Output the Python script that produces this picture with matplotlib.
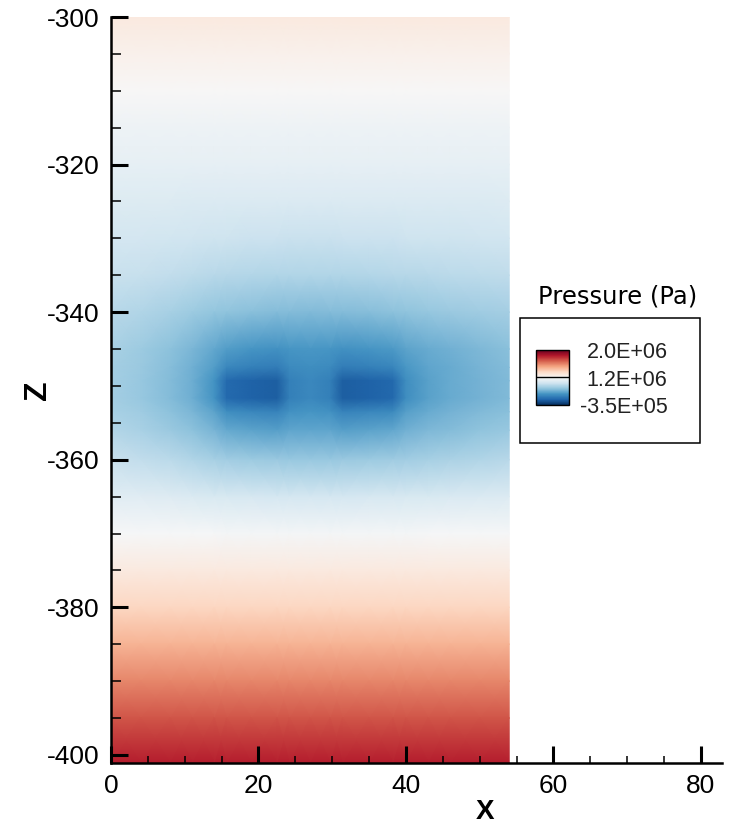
import numpy as np
import matplotlib
matplotlib.use("Agg")
import matplotlib.pyplot as plt
from matplotlib.colors import TwoSlopeNorm
from matplotlib.patches import Rectangle
from matplotlib.ticker import MultipleLocator

plt.rcParams['axes.unicode_minus'] = False

# grid nodes (x in m, z in m)
x_nodes = [0, 4, 8, 11, 14, 15.7, 19, 22.5, 24.2, 27, 29.7, 31.4, 35, 38.2, 40, 43, 46, 50, 54]
z_nodes = [-300, -305, -310, -315, -320, -325, -330, -335, -340, -345, -347.5, -349.3,
           -351.7, -353.5, -356, -360, -365, -370, -375, -380, -385, -390, -395, -401.1]

# background pressure profile with depth (Pa)
p_base = [1.28e6, 1.24e6, 1.20e6, 1.12e6, 1.06e6, 1.00e6, 0.95e6, 0.92e6, 0.89e6, 0.89e6,
          0.89e6, 0.89e6, 0.89e6, 0.90e6, 0.92e6, 0.98e6, 1.08e6, 1.20e6, 1.28e6, 1.37e6,
          1.48e6, 1.59e6, 1.70e6, 1.83e6]
# broad drawdown around the wells (Pa) and its lateral weight
dd_broad = [0, 0, 0, 0, 0, 0.03e6, 0.09e6, 0.19e6, 0.37e6, 0.59e6, 0.64e6, 0.65e6,
            0.65e6, 0.60e6, 0.53e6, 0.37e6, 0.155e6, 0.03e6, 0, 0, 0, 0, 0, 0]
w_broad = [0.33, 0.42, 0.55, 0.67, 0.80, 0.85, 0.92, 0.97, 0.99, 1.0, 0.99, 0.97, 0.93,
           0.88, 0.85, 0.79, 0.73, 0.65, 0.57]
# extra drawdown at the two well screens (Pa) and its lateral weight
dd_well = [0, 0, 0, 0, 0, 0, 0, 0, 0, 0.06e6, 0.155e6, 0.34e6, 0.34e6, 0.155e6, 0.06e6,
           0, 0, 0, 0, 0, 0, 0, 0, 0]
w_well = [0, 0, 0, 0.05, 0.3, 1, 1, 1, 0.3, 0.1, 0.3, 1, 1, 1, 0.3, 0.05, 0, 0, 0]

cb_ticks = [-3.5e5, 1.2e6, 2.0e6]
cb_labels = ['-3.5E+05', '1.2E+06', '2.0E+06']

P = (np.array(p_base)[:, None]
     - np.array(dd_broad)[:, None] * np.array(w_broad)[None, :]
     - np.array(dd_well)[:, None] * np.array(w_well)[None, :])
XX, ZZ = np.meshgrid(x_nodes, z_nodes)

norm = TwoSlopeNorm(vmin=cb_ticks[0], vcenter=cb_ticks[1], vmax=cb_ticks[2])
cmap = plt.get_cmap('RdBu_r')

fig = plt.figure(figsize=(7.41, 8.30), dpi=100)
ax = fig.add_axes([111 / 741, 67 / 830, 611 / 741, 746 / 830])
mesh = ax.pcolormesh(XX, ZZ, P, shading='gouraud', cmap=cmap, norm=norm)

ax.set_xlim(0, 82.85)
ax.set_ylim(-401.1, -300)
for s in ['top', 'right']:
    ax.spines[s].set_visible(False)
for s in ['left', 'bottom']:
    ax.spines[s].set_linewidth(1.8)

ax.xaxis.set_major_locator(MultipleLocator(20))
ax.xaxis.set_minor_locator(MultipleLocator(5))
ax.yaxis.set_major_locator(MultipleLocator(20))
ax.yaxis.set_minor_locator(MultipleLocator(5))
ax.tick_params(which='both', direction='in', labelsize=19, pad=8)
ax.tick_params(which='major', length=12, width=2.2)
ax.tick_params(axis='x', which='minor', length=5, width=1.1)
ax.tick_params(axis='y', which='minor', length=7, width=1.1)
for lab in ax.get_xticklabels() + ax.get_yticklabels():
    lab.set_family('Liberation Sans')

ax.set_xlabel('X', fontsize=20, fontweight='bold', family='Liberation Sans')
ax.set_ylabel('Z', fontsize=23, fontweight='bold', family='Liberation Sans')
ax.xaxis.set_label_coords(0.612, -0.048)
ax.yaxis.set_label_coords(-0.095, 0.5)

# legend in Tecplot style
fig.text(618 / 741, 1 - 303 / 830, 'Pressure (Pa)', ha='center', va='baseline',
         fontsize=17.5, family='DejaVu Sans')
fig.patches.append(Rectangle((520 / 741, 387 / 830), 180 / 741, 125 / 830,
                             transform=fig.transFigure, fill=False,
                             edgecolor='black', linewidth=1.1))
cax = fig.add_axes([536 / 741, 425 / 830, 33 / 741, 55 / 830])
cb = fig.colorbar(mesh, cax=cax, ticks=cb_ticks)
cb.outline.set_linewidth(1.0)
cax.axhline(cb_ticks[1], color='black', linewidth=1.0)
cb.set_ticklabels(cb_labels)
cax.tick_params(length=0, pad=71, labelsize=15.5, labelcolor='#222222')
for lab in cax.get_yticklabels():
    lab.set_horizontalalignment('right')
    lab.set_family('Liberation Sans')

fig.savefig('out.png', dpi=100)
